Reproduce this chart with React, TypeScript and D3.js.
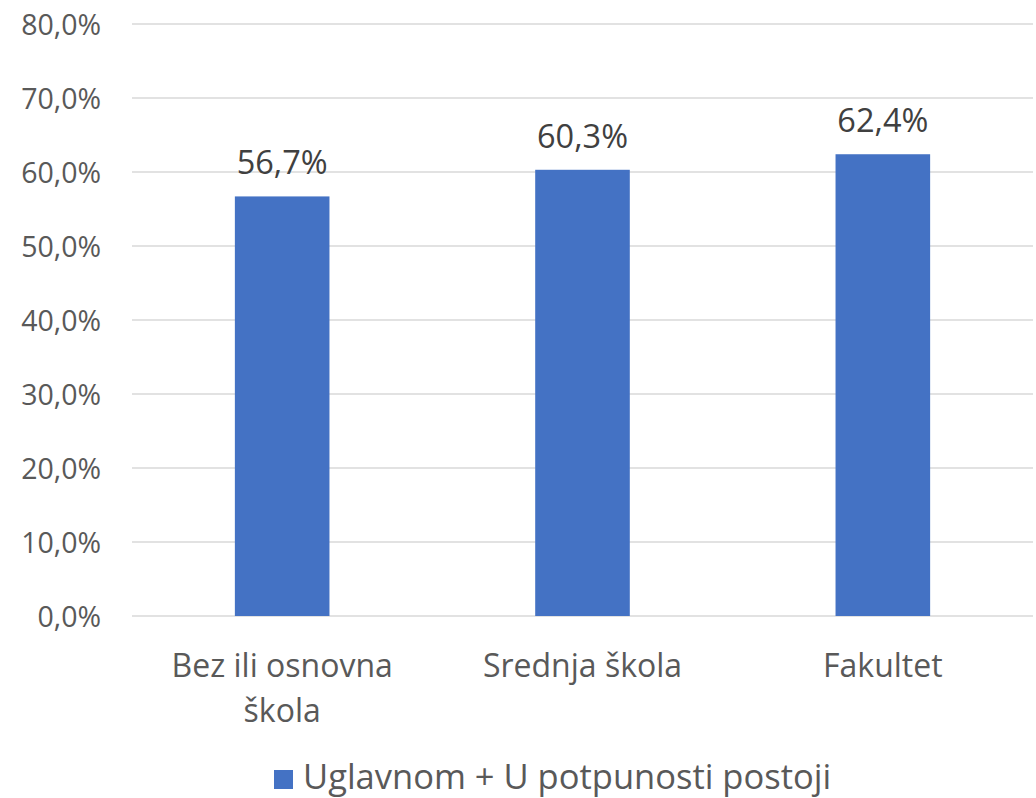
import React from "react";
import * as d3 from "d3";

const categories: string[][] = [["Bez ili osnovna", "škola"], ["Srednja škola"], ["Fakultet"]];
const values: number[] = [56.7, 60.3, 62.4];
const yTicks: number[] = [0, 10, 20, 30, 40, 50, 60, 70, 80];
const seriesName = "Uglavnom + U potpunosti postoji";

const W = 1036;
const H = 798;
const FONT = "'Open Sans', 'DejaVu Sans', sans-serif";

export default function App() {
  const keys = categories.map((c) => c.join(" "));
  const x = d3.scaleBand<string>().domain(keys).range([132, 1033]).paddingInner(0.685).paddingOuter(0.3425);
  const y = d3.scaleLinear().domain([0, 80]).range([616, 24]);
  const fmt = (v: number) => v.toFixed(1).replace(".", ",") + "%";

  return (
    <svg width={W} height={H} style={{ position: "absolute", left: 0, top: 0, background: "#fff" }} fontFamily={FONT}>
      {yTicks.map((t) => (
        <g key={t}>
          <line x1={132} x2={1033} y1={y(t)} y2={y(t)} stroke="#d9d9d9" strokeWidth={1.3} />
          <text x={101} y={y(t) + 10.5} textAnchor="end" fontSize={28.5} fill="#595959">
            {fmt(t)}
          </text>
        </g>
      ))}
      {values.map((v, i) => {
        const k = keys[i];
        const cx = (x(k) as number) + x.bandwidth() / 2;
        return (
          <g key={k}>
            <rect x={x(k)} y={y(v)} width={x.bandwidth()} height={y(0) - y(v)} fill="#4472c4" />
            <text x={cx} y={y(v) - 22} textAnchor="middle" fontSize={32.5} fill="#404040">
              {fmt(v)}
            </text>
            {categories[i].map((line, j) => (
              <text key={j} x={cx} y={677 + j * 45} textAnchor="middle" fontSize={32} fill="#595959">
                {line}
              </text>
            ))}
          </g>
        );
      })}
      <rect x={274} y={770} width={19} height={19} fill="#4472c4" />
      <text x={303} y={789} fontSize={34.5} fill="#595959">
        {seriesName}
      </text>
    </svg>
  );
}
